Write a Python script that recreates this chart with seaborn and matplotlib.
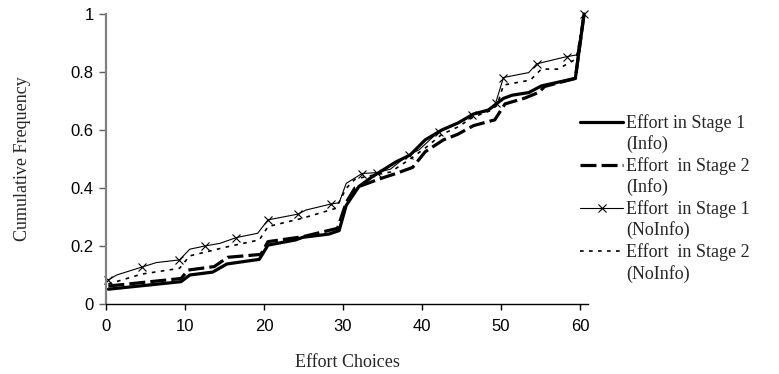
import matplotlib
matplotlib.use("Agg")
import matplotlib.pyplot as plt
from matplotlib.lines import Line2D
import seaborn as sns

# values (vertices of each cumulative line)
info_s1_x = [0.3, 9.5, 10.6, 13.5, 15.3, 19.4, 20.5, 24.0, 24.9, 28.2, 29.5, 30.4, 32.0, 33.7,
             36.7, 38.5, 40.4, 42.5, 44.6, 46.5, 48.4, 50.3, 51.4, 53.5, 55.1, 59.4, 60.5]
info_s1_y = [0.051, 0.077, 0.100, 0.110, 0.138, 0.154, 0.203, 0.221, 0.230, 0.241, 0.253, 0.340, 0.405, 0.439,
             0.490, 0.514, 0.566, 0.600, 0.625, 0.655, 0.669, 0.709, 0.720, 0.729, 0.752, 0.778, 1.0]

info_s2_x = [0.3, 9.5, 10.4, 13.7, 15.4, 19.6, 20.5, 24.9, 29.3, 30.4, 31.5, 34.8, 36.7, 38.8,
             40.4, 42.7, 44.5, 46.5, 49.2, 50.5, 53.0, 54.8, 55.5, 59.4, 60.5]
info_s2_y = [0.062, 0.088, 0.117, 0.129, 0.161, 0.171, 0.215, 0.232, 0.261, 0.350, 0.400, 0.433, 0.450, 0.471,
             0.525, 0.566, 0.585, 0.615, 0.635, 0.690, 0.710, 0.730, 0.750, 0.778, 1.0]

noinfo_s1_x = [0.3, 1.35, 4.5, 6.4, 9.3, 10.6, 12.5, 14.4, 16.5, 19.2, 20.5, 24.3, 25.3, 28.5, 29.5, 30.4,
               31.4, 32.4, 34.3, 36.0, 38.3, 39.6, 42.1, 44.0, 46.3, 48.3, 49.3, 50.3, 53.5, 54.5, 58.3, 59.6, 60.5]
noinfo_s1_y = [0.083, 0.100, 0.127, 0.143, 0.152, 0.189, 0.200, 0.209, 0.229, 0.244, 0.290, 0.310, 0.324, 0.345, 0.349, 0.416,
               0.433, 0.450, 0.453, 0.465, 0.515, 0.531, 0.594, 0.615, 0.652, 0.665, 0.692, 0.781, 0.798, 0.828, 0.853, 0.859, 1.0]
# indices of the vertices that carry an x marker
noinfo_s1_marks = [0, 2, 4, 6, 8, 10, 11, 13, 17, 18, 20, 22, 24, 26, 27, 29, 30, 32]

noinfo_s2_x = [0.3, 4.5, 9.3, 10.6, 15.3, 19.4, 20.5, 24.9, 29.1, 30.4, 31.5, 33.0, 36.0, 38.5,
               40.5, 42.5, 44.5, 46.5, 48.5, 49.5, 50.3, 53.7, 55.1, 57.2, 59.5, 60.5]
noinfo_s2_y = [0.069, 0.103, 0.123, 0.166, 0.197, 0.221, 0.267, 0.296, 0.330, 0.399, 0.430, 0.440, 0.455, 0.500,
               0.540, 0.585, 0.610, 0.645, 0.665, 0.685, 0.755, 0.772, 0.810, 0.810, 0.845, 1.0]

labels = ["Effort in Stage 1", "Effort  in Stage 2", "Effort  in Stage 1", "Effort  in Stage 2"]
sublabels = ["(Info)", "(Info)", "(NoInfo)", "(NoInfo)"]

sns.set_theme(style="ticks")
plt.rcParams["font.family"] = ["Liberation Sans", "DejaVu Sans"]

fig = plt.figure(figsize=(7.79, 3.74), dpi=100)
ax = fig.add_axes([106 / 779, 70 / 374, 482 / 779, 290 / 374])

styles = [
    dict(linewidth=2.3, dashes=None, marker=None),
    dict(linewidth=2.3, dashes=(5, 1.6), marker=None),
    dict(linewidth=0.8, dashes=None, marker="x"),
    dict(linewidth=1.2, dashes=(2.2, 3.2), marker=None),
]
series = [(info_s1_x, info_s1_y), (info_s2_x, info_s2_y),
          (noinfo_s1_x, noinfo_s1_y), (noinfo_s2_x, noinfo_s2_y)]

handles, texts = [], []
for (xs, ys), st, lab, sub in zip(series, styles, labels, sublabels):
    sns.lineplot(x=xs, y=ys, ax=ax, color="black", linewidth=st["linewidth"],
                 sort=False, estimator=None)
    line = ax.lines[-1]
    line.set_clip_on(False)
    if st["dashes"]:
        line.set_dashes(st["dashes"])
    if st["marker"]:
        line.set_marker("x")
        line.set_markersize(6)
        line.set_markeredgewidth(0.8)
        line.set_markeredgecolor("black")
        line.set_markevery(noinfo_s1_marks)
    proxy = Line2D([], [], color="black", linewidth=st["linewidth"],
                   marker=st["marker"] or "None", markersize=6, markeredgewidth=0.8)
    if st["dashes"]:
        proxy.set_dashes(st["dashes"])
    handles += [proxy, Line2D([], [], linestyle="none")]
    texts += [lab, sub]

ax.set_xlim(0, 61)
ax.set_ylim(0, 1)
ax.set_xticks([0, 10, 20, 30, 40, 50, 60])
ax.set_yticks([0, 0.2, 0.4, 0.6, 0.8, 1])
ax.set_yticklabels(["0", "0.2", "0.4", "0.6", "0.8", "1"])
sns.despine(ax=ax)
ax.spines["left"].set_color("#808080")
ax.spines["left"].set_linewidth(1.6)
ax.spines["bottom"].set_color("black")
ax.spines["bottom"].set_linewidth(1.0)
ax.tick_params(axis="y", direction="out", length=5, width=1.0, color="#606060",
               labelsize=12, pad=4, labelcolor="black")
ax.tick_params(axis="x", direction="out", length=4, width=1.0, color="black",
               labelsize=12, pad=7, labelcolor="black")

serif = ["Liberation Serif", "DejaVu Serif"]
ax.set_xlabel("Effort Choices", family=serif, fontsize=13, labelpad=14)
ax.set_ylabel("Cumulative Frequency", family=serif, fontsize=13)
ax.yaxis.set_label_coords(-0.155, 0.5)

# legend: one row per text line, with the line sample on the first row
fig.legend(handles, texts, loc="upper left", bbox_to_anchor=(580 / 779, 1 - 114 / 374),
           frameon=False, prop={"family": serif, "size": 13}, handlelength=2.4,
           handletextpad=0.15, labelspacing=0.2, borderpad=0, borderaxespad=0)

plt.savefig("out.png", dpi=100)
plt.close()
